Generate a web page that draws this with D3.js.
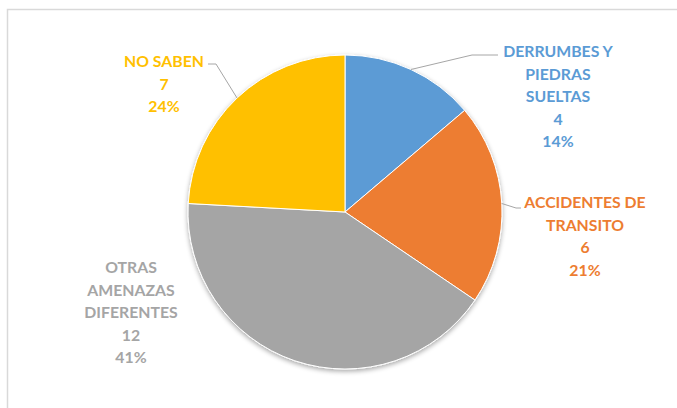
<!DOCTYPE html>
<html><head><meta charset="utf-8">
<script src="https://cdn.jsdelivr.net/npm/d3@7"></script>
<style>html,body{margin:0;padding:0;background:#fff;}svg{display:block;}</style>
</head><body>
<script>
const categories = [["DERRUMBES Y","PIEDRAS","SUELTAS"],["ACCIDENTES DE","TRANSITO"],["OTRAS","AMENAZAS","DIFERENTES"],["NO SABEN"]];
const values = [4, 6, 12, 7];
const percents = ["14%", "21%", "41%", "24%"];
const colors = ["#5B9BD5", "#ED7D31", "#A5A5A5", "#FFC000"];

const W = 677, H = 408;
const svg = d3.select("body").append("svg").attr("width", W).attr("height", H);
svg.append("rect").attr("x", 7.5).attr("y", 9.5).attr("width", 700).attr("height", 420)
  .attr("fill", "#fff").attr("stroke", "#d9d9d9").attr("stroke-width", 1.5);

const defs = svg.append("defs");
const f = defs.append("filter").attr("id", "sh").attr("x", "-10%").attr("y", "-10%").attr("width", "120%").attr("height", "120%");
f.append("feGaussianBlur").attr("in", "SourceAlpha").attr("stdDeviation", 2.5);
f.append("feOffset").attr("dx", 0).attr("dy", 2).attr("result", "b");
f.append("feComponentTransfer").append("feFuncA").attr("type", "linear").attr("slope", 0.35);
const m = f.append("feMerge"); m.append("feMergeNode"); m.append("feMergeNode").attr("in", "SourceGraphic");

const cx = 345, cy = 212, R = 157;
const pie = d3.pie().sort(null).value(d => d);
const arcs = pie(values);
const arc = d3.arc().innerRadius(0).outerRadius(R);
const g = svg.append("g").attr("transform", `translate(${cx},${cy})`);
g.append("g").attr("filter", "url(#sh)").selectAll("path").data(arcs).enter().append("path")
  .attr("d", arc).attr("fill", (d, i) => colors[i]).attr("stroke", "#fff").attr("stroke-width", 1);

// labels: center x, first-line baseline y
const labelPos = [[558, 57], [585, 208], [131, 273], [164, 67]];
const lh = 22.6;
categories.forEach((lines, i) => {
  const all = lines.concat([String(values[i]), percents[i]]);
  const t = svg.append("text").attr("text-anchor", "middle")
    .attr("font-family", "Lato, 'Open Sans', sans-serif").attr("font-weight", "bold")
    .attr("font-size", 15.8).attr("fill", colors[i]);
  all.forEach((s, k) => t.append("tspan").attr("x", labelPos[i][0]).attr("y", labelPos[i][1] + k * lh).text(s));
});

// leader lines
const edge = (i) => { const a = (arcs[i].startAngle + arcs[i].endAngle) / 2; return [cx + R * Math.sin(a), cy - R * Math.cos(a)]; };
const leaders = [
  [edge(0), [472, 55], [498, 55]],
  [edge(1), [516, 208], [521, 208]],
  [edge(3), [216, 64], [208, 64]]
];
leaders.forEach(p => svg.append("path").attr("d", d3.line()(p)).attr("fill", "none")
  .attr("stroke", "#a6a6a6").attr("stroke-width", 1));
</script>
</body></html>
